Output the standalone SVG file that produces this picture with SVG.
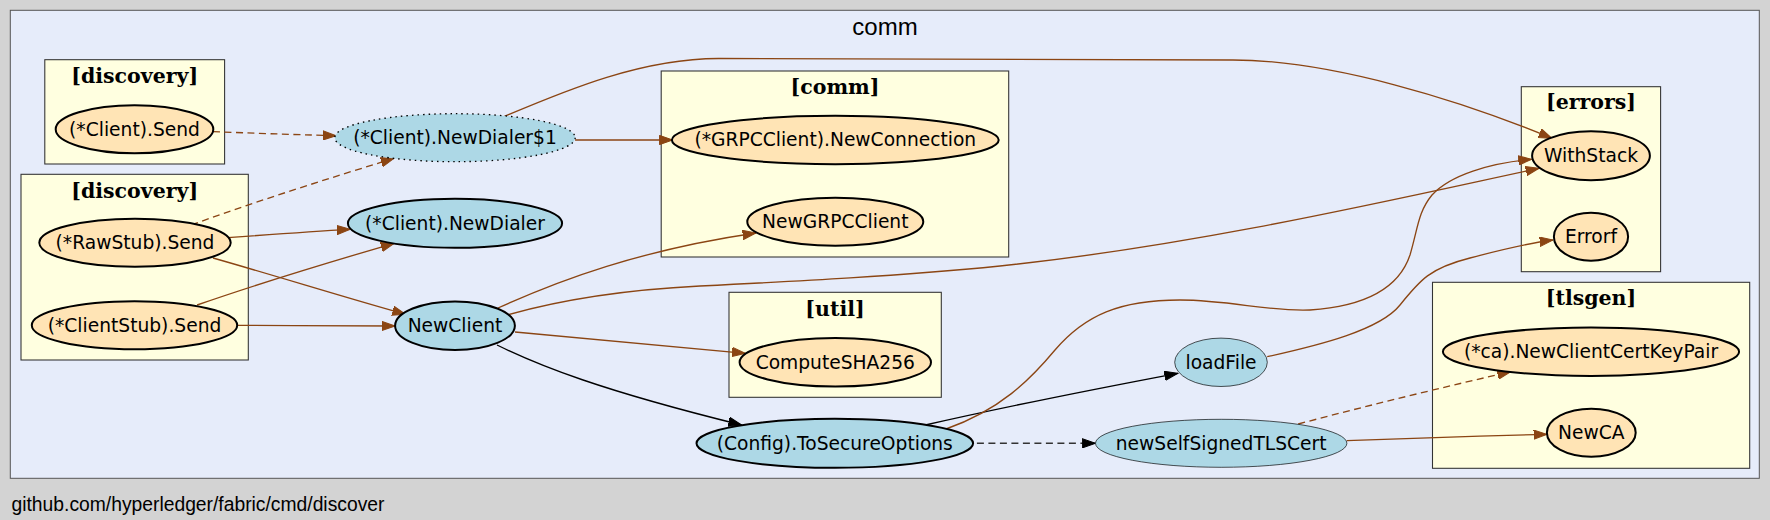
<svg xmlns="http://www.w3.org/2000/svg" width="1770" height="520" viewBox="0 0 1770 520">
<defs>
<style>
.bg{fill:#d3d3d3}
.outer{fill:#e6ecfa;stroke:#555;stroke-width:1}
.pkg{fill:#ffffe0;stroke:#333;stroke-width:1.07}
.ctitle{font-family:"DejaVu Serif",serif;font-weight:bold;font-size:20.5px;text-anchor:middle;fill:#000}
.ext{fill:#ffe4b5;stroke:#000;stroke-width:2}
.loc{fill:#add8e6;stroke:#000;stroke-width:2}
.thin{fill:#add8e6;stroke:#000;stroke-width:0.67}
.dot{fill:#add8e6;stroke:#000;stroke-width:1.33;stroke-dasharray:1.5,4}
.lbl{font-family:"DejaVu Sans",Verdana,sans-serif;font-size:18.67px;text-anchor:middle;fill:#000}
.e{fill:none;stroke:#8b4513;stroke-width:1.33;marker-end:url(#ab)}
.ed{fill:none;stroke:#8b4513;stroke-width:1.33;stroke-dasharray:7,4.5;marker-end:url(#ab)}
.k{fill:none;stroke:#000;stroke-width:1.33;marker-end:url(#ak)}
.kd{fill:none;stroke:#333;stroke-width:1.6;stroke-dasharray:7,4.5;marker-end:url(#ak)}
</style>
<marker id="ab" markerUnits="userSpaceOnUse" viewBox="0 0 14 10" markerWidth="14" markerHeight="10" refX="13.3" refY="5" orient="auto">
<path d="M0,0.33 L13.3,5 L0,9.67 z" fill="#8b4513" stroke="#8b4513" stroke-width="1"/>
</marker>
<marker id="ak" markerUnits="userSpaceOnUse" viewBox="0 0 14 10" markerWidth="14" markerHeight="10" refX="13.3" refY="5" orient="auto">
<path d="M0,0.33 L13.3,5 L0,9.67 z" fill="#000" stroke="#000" stroke-width="1"/>
</marker>
</defs>
<rect class="bg" x="0" y="0" width="1770" height="520"/>
<text x="11.5" y="510.5" font-family="'Liberation Sans',Arial,sans-serif" font-size="19.3" fill="#000">github.com/hyperledger/fabric/cmd/discover</text>

<g id="cluster-comm-focus">
<rect class="outer" x="10.3" y="10.3" width="1749" height="468"/>
<text x="885" y="35" font-family="'Liberation Sans',Arial,sans-serif" font-size="24" text-anchor="middle" fill="#000">comm</text>
</g>
<g id="cluster-discovery-1">
<rect class="pkg" x="44.8" y="59.7" width="179.8" height="104.3"/>
<text class="ctitle" x="134.7" y="82.5">[discovery]</text>
</g>
<g id="cluster-discovery-2">
<rect class="pkg" x="21" y="174.3" width="227.3" height="185.7"/>
<text class="ctitle" x="134.7" y="197.5">[discovery]</text>
</g>
<g id="cluster-comm">
<rect class="pkg" x="661.2" y="71" width="347.5" height="186"/>
<text class="ctitle" x="835" y="94">[comm]</text>
</g>
<g id="cluster-util">
<rect class="pkg" x="729" y="292.3" width="212.3" height="105"/>
<text class="ctitle" x="835" y="315.5">[util]</text>
</g>
<g id="cluster-errors">
<rect class="pkg" x="1521.3" y="86.7" width="139.3" height="185"/>
<text class="ctitle" x="1591" y="109">[errors]</text>
</g>
<g id="cluster-tlsgen">
<rect class="pkg" x="1432.5" y="282.3" width="317.2" height="186"/>
<text class="ctitle" x="1591" y="305">[tlsgen]</text>
</g>

<g id="edges">
<path class="ed" d="M213.1,131.7 C250,133 290,134.5 336,135.7"/>
<path class="ed" d="M191.3,225 C260,200 330,178 394.1,158.3"/>
<path class="e" d="M227.7,237.7 C270,234.5 310,231.5 350.1,229.3"/>
<path class="e" d="M213,258 C280,277 340,296 405.6,314.3"/>
<path class="e" d="M197.1,305 C260,283 330,262 394.1,243.3"/>
<path class="e" d="M237.2,325.3 C290,325.5 340,325.8 394.9,326"/>
<path class="e" d="M575.1,140 C610,140 640,140 672.7,140"/>
<path class="e" d="M503,117 C560,93 640,58 720,58.5 L1233,60 C1330,60 1460,100 1552,138.3"/>
<path class="e" d="M498,308 C560,280 640,250 756,233"/>
<path class="e" d="M507,315 C560,300 620,290 700,286 C800,281 900,276 1000,266 C1200,245 1400,198 1539,168.3"/>
<path class="e" d="M515,332 C600,340 680,347 745.4,353.3"/>
<path class="k" d="M497,345 C540,366 600,390 741.6,425"/>
<path class="k" d="M925.3,425 C1000,408 1100,388 1177.8,373.3"/>
<path class="e" d="M946,429 C1000,410 1030,380 1055,350 C1085,315 1120,300 1180,300 C1230,300 1270,312 1310,310 C1370,306 1400,285 1410,255 C1418,228 1418,212 1432,195 C1450,175 1490,163 1531.6,159.3"/>
<path class="e" d="M1267.2,356.7 C1320,345 1380,330 1400,305 C1420,280 1430,268 1470,258 C1500,250 1530,243 1553,240"/>
<path class="kd" d="M976.9,443.3 L1095.5,443.3"/>
<path class="ed" d="M1298.2,424 C1370,405 1440,388 1510.6,371.7"/>
<path class="e" d="M1346.8,440.7 C1420,438 1480,436 1546.9,434.3"/>
</g>

<g id="node-client-send"><ellipse class="ext" cx="134.5" cy="129.3" rx="78.8" ry="24"/><text class="lbl" x="134.5" y="135.6">(*Client).Send</text></g>
<g id="node-rawstub-send"><ellipse class="ext" cx="135" cy="242.7" rx="95.7" ry="24"/><text class="lbl" x="135" y="249">(*RawStub).Send</text></g>
<g id="node-clientstub-send"><ellipse class="ext" cx="134.5" cy="325.3" rx="102.7" ry="24"/><text class="lbl" x="134.5" y="331.6">(*ClientStub).Send</text></g>
<g id="node-newdialer-1"><ellipse class="dot" cx="455" cy="137.7" rx="120.2" ry="24"/><text class="lbl" x="455" y="144">(*Client).NewDialer$1</text></g>
<g id="node-newdialer"><ellipse class="loc" cx="455" cy="223.3" rx="107.1" ry="24.5"/><text class="lbl" x="455" y="229.6">(*Client).NewDialer</text></g>
<g id="node-newclient"><ellipse class="loc" cx="455" cy="325.7" rx="59.9" ry="24.3"/><text class="lbl" x="455" y="332">NewClient</text></g>
<g id="node-newconnection"><ellipse class="ext" cx="835.3" cy="140" rx="163.4" ry="24.2"/><text class="lbl" x="835.3" y="146.3">(*GRPCClient).NewConnection</text></g>
<g id="node-newgrpcclient"><ellipse class="ext" cx="835.3" cy="221.7" rx="88" ry="24"/><text class="lbl" x="835.3" y="228">NewGRPCClient</text></g>
<g id="node-computesha256"><ellipse class="ext" cx="835.3" cy="362.3" rx="95.7" ry="24.2"/><text class="lbl" x="835.3" y="368.6">ComputeSHA256</text></g>
<g id="node-tosecureoptions"><ellipse class="loc" cx="834.8" cy="443.3" rx="138.3" ry="24.5"/><text class="lbl" x="834.8" y="449.6">(Config).ToSecureOptions</text></g>
<g id="node-loadfile"><ellipse class="thin" cx="1221" cy="362.3" rx="46.3" ry="24.2"/><text class="lbl" x="1221" y="368.6">loadFile</text></g>
<g id="node-newselfsignedtlscert"><ellipse class="thin" cx="1221.2" cy="443.3" rx="125.7" ry="24"/><text class="lbl" x="1221.2" y="449.6">newSelfSignedTLSCert</text></g>
<g id="node-withstack"><ellipse class="ext" cx="1591" cy="155.7" rx="58.9" ry="24.5"/><text class="lbl" x="1591" y="162">WithStack</text></g>
<g id="node-errorf"><ellipse class="ext" cx="1591" cy="236.7" rx="37.1" ry="24"/><text class="lbl" x="1591" y="243">Errorf</text></g>
<g id="node-newclientcertkeypair"><ellipse class="ext" cx="1591" cy="351.7" rx="148.1" ry="24.2"/><text class="lbl" x="1591" y="358">(*ca).NewClientCertKeyPair</text></g>
<g id="node-newca"><ellipse class="ext" cx="1591.3" cy="432.7" rx="44.4" ry="24"/><text class="lbl" x="1591.3" y="439">NewCA</text></g>
</svg>
